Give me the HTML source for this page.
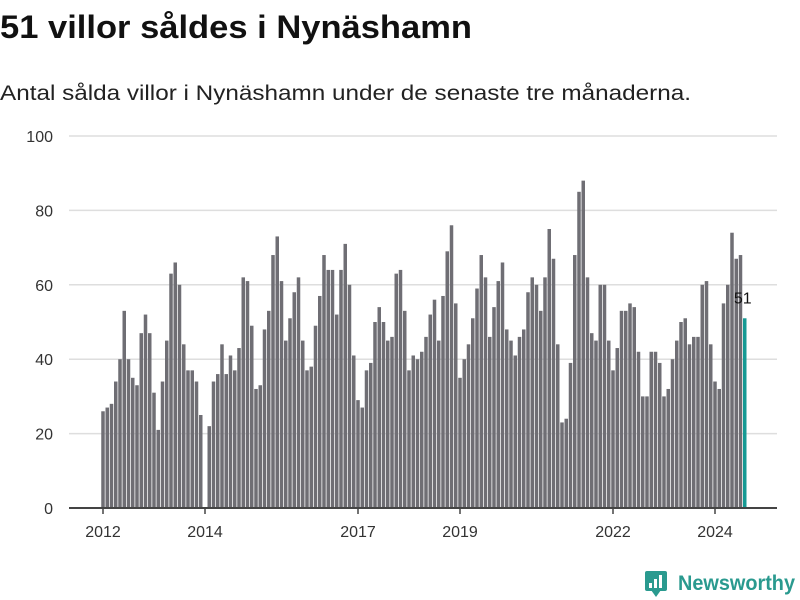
<!DOCTYPE html>
<html><head><meta charset="utf-8"><style>
body{margin:0;background:#fff;}
svg{display:block;font-family:"Liberation Sans",sans-serif;}
</style></head><body>
<svg id="chart" width="800" height="600">
<text x="0" y="38" font-size="32" font-weight="bold" fill="#111" textLength="472" lengthAdjust="spacingAndGlyphs">51 villor såldes i Nynäshamn</text>
<text x="0" y="100" font-size="21" fill="#222" textLength="691" lengthAdjust="spacingAndGlyphs">Antal sålda villor i Nynäshamn under de senaste tre månaderna.</text>
<g id="grid"></g><g id="bars"></g><g id="axes"></g>
<g>
<rect x="645" y="571" width="22" height="20" rx="2" fill="#2a9a8f"/>
<polygon points="651,590 661,590 656,597" fill="#2a9a8f"/>
<rect x="649" y="583" width="3" height="5" fill="#fff"/><rect x="654" y="579" width="3" height="9" fill="#fff"/><rect x="659" y="575" width="3" height="13" fill="#fff"/>
<text x="678" y="590" font-size="21" font-weight="bold" fill="#2a9a8f" textLength="117" lengthAdjust="spacingAndGlyphs">Newsworthy</text>
</g>
</svg>
<script>
const values = [26,27,28,34,40,53,40,35,33,47,52,47,
31,21,34,45,63,66,60,44,37,37,34,25,
0,22,34,36,44,36,41,37,43,62,61,49,
32,33,48,53,68,73,61,45,51,58,62,45,
37,38,49,57,68,64,64,52,64,71,60,41,
29,27,37,39,50,54,50,45,46,63,64,53,
37,41,40,42,46,52,56,45,57,69,76,55,
35,40,44,51,59,68,62,46,54,61,66,48,
45,41,46,48,58,62,60,53,62,75,67,44,
23,24,39,68,85,88,62,47,45,60,60,45,
37,43,53,53,55,54,42,30,30,42,42,39,
30,32,40,45,50,51,44,46,46,60,61,44,
34,32,55,60,74,67,68,51];
const startYear = 2012;
const yTicks = [0,20,40,60,80,100];
const xTickYears = [2012,2014,2017,2019,2022,2024];
const NS="http://www.w3.org/2000/svg";
const x = i => 103 + i*4.25;
const y = v => 508 - v*3.72;
function mk(tag, attrs, parent){const e=document.createElementNS(NS,tag);for(const k in attrs)e.setAttribute(k,attrs[k]);parent.appendChild(e);return e;}
const grid=document.getElementById('grid'), bars=document.getElementById('bars'), axes=document.getElementById('axes');
yTicks.forEach(t=>{
  if(t>0){const l=mk('line',{x1:69,x2:777,y1:y(t),y2:y(t),stroke:'#dedede','stroke-width':1.5},grid);
  
  }
  const tx=mk('text',{x:53,y:y(t)+6,'font-size':16,fill:'#333','text-anchor':'end'},axes);
  tx.textContent=t;
  
  
});
values.forEach((v,i)=>{
  const last=i===values.length-1;
  const r=mk('rect',{x:x(i)-1.75,y:y(v),width:3.5,height:508-y(v),fill:last?'#169a94':'#6f6e74'},bars);
  
  
});
const li=values.length-1;
const lb=mk('text',{x:x(li)-2,y:y(values[li])-15,'font-size':16,fill:'#111','text-anchor':'middle'},axes);
lb.textContent=values[li];


const ax=mk('line',{x1:69,x2:777,y1:508,y2:508,stroke:'#444','stroke-width':2},axes);


xTickYears.forEach(yr=>{
  const i=(yr-startYear)*12;
  const tk=mk('line',{x1:x(i),x2:x(i),y1:508,y2:514,stroke:'#444','stroke-width':1.5},axes);
  
  
  const t=mk('text',{x:x(i),y:537,'font-size':16,fill:'#333','text-anchor':'middle'},axes);
  t.textContent=yr;
  
  
});
</script>
</body></html>
